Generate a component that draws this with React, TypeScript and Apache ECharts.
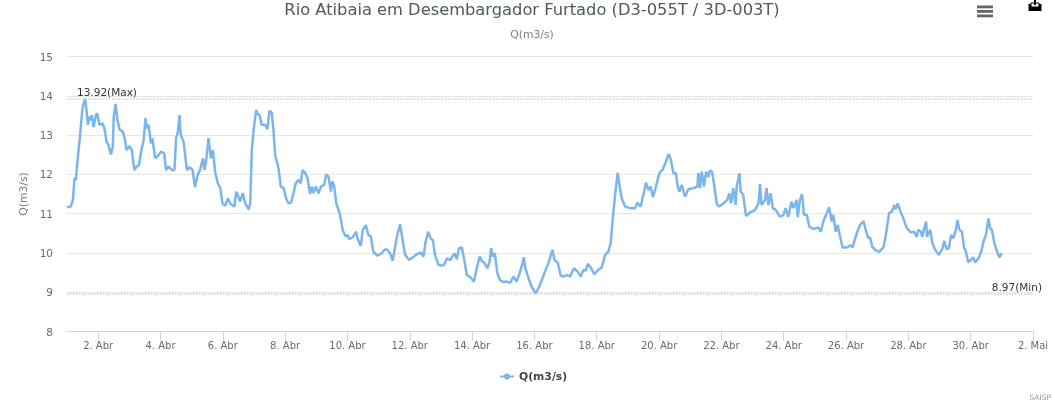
import React, { useEffect, useRef } from "react";
import * as echarts from "echarts";

const titleText = "Rio Atibaia em Desembargador Furtado (D3-055T / 3D-003T)";
const seriesName = "Q(m3/s)";
const creditText = "SAISP";
const maxValue = 13.92;
const minValue = 8.97;
const maxLabel = "13.92(Max)";
const minLabel = "8.97(Min)";

const yMin = 8;
const yMax = 15;
const xMin = 1;
const xMax = 32;
const tickDays = [2, 4, 6, 8, 10, 12, 14, 16, 18, 20, 22, 24, 26, 28, 30, 32];
const tickLabels = ["2. Abr", "4. Abr", "6. Abr", "8. Abr", "10. Abr", "12. Abr", "14. Abr", "16. Abr", "18. Abr", "20. Abr", "22. Abr", "24. Abr", "26. Abr", "28. Abr", "30. Abr", "2. Mai"];

// day of April (fractional)
const days = [
  1, 1.12, 1.19, 1.24, 1.285, 1.34, 1.42, 1.49, 1.53, 1.585, 1.62, 1.67, 1.72, 1.77, 1.8, 1.85, 1.93, 1.97, 2.04, 2.14,
  2.2, 2.27, 2.33, 2.41, 2.47, 2.5, 2.56, 2.62, 2.69, 2.79, 2.86, 2.91, 3, 3.08, 3.16, 3.22, 3.31, 3.38, 3.46, 3.52,
  3.56, 3.62, 3.69, 3.74, 3.83, 3.94, 4.02, 4.12, 4.18, 4.26, 4.36, 4.45, 4.5, 4.56, 4.61, 4.65, 4.74, 4.85, 4.93, 5.03,
  5.11, 5.19, 5.27, 5.36, 5.41, 5.47, 5.54, 5.62, 5.68, 5.76, 5.84, 5.92, 5.99, 6.08, 6.16, 6.24, 6.37, 6.43, 6.5, 6.56,
  6.64, 6.72, 6.83, 6.88, 6.93, 6.99, 7.07, 7.11, 7.18, 7.25, 7.36, 7.43, 7.5, 7.57, 7.63, 7.68, 7.79, 7.86, 7.95, 8.03,
  8.11, 8.19, 8.27, 8.34, 8.43, 8.5, 8.56, 8.64, 8.72, 8.8, 8.86, 8.91, 8.98, 9.07, 9.15, 9.25, 9.32, 9.39, 9.47, 9.51,
  9.57, 9.64, 9.75, 9.85, 9.94, 10, 10.06, 10.17, 10.28, 10.32, 10.43, 10.49, 10.59, 10.67, 10.75, 10.83, 10.96, 11.1, 11.19, 11.26,
  11.37, 11.45, 11.53, 11.6, 11.69, 11.77, 11.85, 11.98, 12.1, 12.23, 12.36, 12.44, 12.51, 12.59, 12.67, 12.74, 12.81, 12.92, 13.03, 13.1,
  13.19, 13.3, 13.43, 13.51, 13.58, 13.67, 13.74, 13.83, 13.94, 14.06, 14.15, 14.24, 14.31, 14.4, 14.49, 14.56, 14.61, 14.66, 14.73, 14.81,
  14.9, 15, 15.11, 15.22, 15.33, 15.43, 15.51, 15.59, 15.66, 15.71, 15.81, 15.91, 16.04, 16.14, 16.24, 16.34, 16.45, 16.58, 16.64, 16.75,
  16.85, 16.95, 17.04, 17.14, 17.27, 17.38, 17.49, 17.57, 17.65, 17.71, 17.81, 17.92, 18.05, 18.16, 18.27, 18.37, 18.45, 18.51, 18.59, 18.64,
  18.67, 18.73, 18.8, 18.91, 19.07, 19.23, 19.3, 19.41, 19.52, 19.58, 19.66, 19.73, 19.8, 19.89, 20.01, 20.12, 20.22, 20.31, 20.38, 20.46,
  20.54, 20.59, 20.65, 20.73, 20.83, 20.94, 21.1, 21.23, 21.26, 21.31, 21.37, 21.44, 21.51, 21.58, 21.63, 21.7, 21.76, 21.85, 21.92, 22.06,
  22.19, 22.25, 22.31, 22.38, 22.46, 22.49, 22.58, 22.62, 22.7, 22.79, 22.92, 23.08, 23.19, 23.24, 23.29, 23.4, 23.45, 23.51, 23.58, 23.65,
  23.75, 23.88, 23.99, 24.06, 24.15, 24.25, 24.31, 24.41, 24.45, 24.52, 24.59, 24.65, 24.74, 24.82, 24.95, 25.11, 25.19, 25.27, 25.38, 25.46,
  25.54, 25.59, 25.67, 25.73, 25.81, 25.89, 26.02, 26.15, 26.21, 26.36, 26.45, 26.56, 26.63, 26.72, 26.77, 26.84, 26.96, 27.07, 27.2, 27.28,
  27.38, 27.47, 27.55, 27.59, 27.66, 27.73, 27.84, 27.95, 28.08, 28.18, 28.27, 28.32, 28.4, 28.45, 28.5, 28.57, 28.6, 28.7, 28.77, 28.86,
  28.98, 29.1, 29.15, 29.23, 29.3, 29.37, 29.44, 29.51, 29.58, 29.63, 29.72, 29.79, 29.84, 29.92, 30, 30.08, 30.14, 30.25, 30.35, 30.41,
  30.49, 30.57, 30.62, 30.68, 30.76, 30.85, 30.92, 31,
];

const flow = [
  11.16, 11.18, 11.35, 11.9, 11.86, 12.37, 13, 13.64, 13.79, 13.92, 13.68, 13.26, 13.47, 13.38, 13.51, 13.2, 13.51, 13.55, 13.26, 13.3,
  13.17, 12.83, 12.75, 12.51, 12.7, 13.47, 13.79, 13.38, 13.13, 13.09, 12.88, 12.62, 12.72, 12.62, 12.11, 12.18, 12.24, 12.58, 12.88, 13.43,
  13.17, 13.26, 12.79, 12.92, 12.41, 12.49, 12.58, 12.53, 12.11, 12.2, 12.11, 12.11, 12.92, 13.09, 13.51, 13, 12.83, 12.11, 12.18, 12.11,
  11.67, 11.98, 12.11, 12.41, 12.11, 12.37, 12.92, 12.41, 12.62, 12.03, 11.77, 11.65, 11.26, 11.2, 11.39, 11.25, 11.18, 11.56, 11.43, 11.31,
  11.52, 11.26, 11.11, 11.26, 12.62, 13.13, 13.64, 13.54, 13.51, 13.26, 13.26, 13.15, 13.62, 13.57, 13.09, 12.49, 12.15, 11.69, 11.65, 11.39,
  11.26, 11.28, 11.52, 11.77, 11.86, 11.77, 12.11, 12.04, 11.9, 11.5, 11.69, 11.52, 11.69, 11.52, 11.69, 11.73, 12, 11.94, 11.56, 11.82,
  11.73, 11.26, 11.01, 10.58, 10.42, 10.46, 10.35, 10.4, 10.54, 10.37, 10.18, 10.58, 10.71, 10.46, 10.42, 10.03, 9.93, 9.99, 10.08, 10.09,
  9.99, 9.8, 10.16, 10.46, 10.73, 10.33, 9.95, 9.82, 9.89, 9.97, 10.01, 9.91, 10.29, 10.54, 10.37, 10.33, 9.95, 9.7, 9.68, 9.69,
  9.86, 9.82, 9.99, 9.84, 10.12, 10.14, 9.86, 9.44, 9.38, 9.27, 9.61, 9.91, 9.8, 9.74, 9.61, 9.78, 10.12, 9.91, 9.99, 9.48,
  9.3, 9.26, 9.27, 9.24, 9.4, 9.27, 9.44, 9.65, 9.89, 9.61, 9.36, 9.14, 8.97, 9.12, 9.31, 9.53, 9.74, 10.08, 9.82, 9.75,
  9.41, 9.4, 9.44, 9.4, 9.61, 9.53, 9.4, 9.57, 9.55, 9.72, 9.63, 9.46, 9.57, 9.63, 9.95, 10.03, 10.25, 10.84, 11.48, 11.82,
  12.04, 11.73, 11.39, 11.18, 11.14, 11.14, 11.28, 11.18, 11.56, 11.79, 11.6, 11.69, 11.42, 11.65, 12.03, 12.13, 12.32, 12.52, 12.37, 12.03,
  12.03, 11.73, 11.56, 11.73, 11.43, 11.62, 11.65, 11.69, 12.03, 11.65, 12.07, 11.69, 12.07, 11.93, 12.1, 12.07, 11.77, 11.26, 11.18, 11.26,
  11.35, 11.52, 11.26, 11.65, 11.22, 11.69, 12.03, 11.56, 11.48, 10.94, 11.03, 11.09, 11.26, 11.75, 11.22, 11.35, 11.65, 11.22, 11.52, 11.14,
  11.09, 10.92, 10.97, 11.14, 10.92, 11.31, 11.14, 11.35, 10.91, 11.35, 11.5, 10.97, 10.97, 10.67, 10.61, 10.65, 10.54, 10.8, 11.01, 11.16,
  10.8, 10.97, 10.54, 10.71, 10.41, 10.14, 10.14, 10.19, 10.14, 10.54, 10.71, 10.81, 10.59, 10.37, 10.4, 10.16, 10.06, 10.03, 10.14, 10.46,
  11.01, 11.05, 11.22, 11.11, 11.26, 11.09, 10.88, 10.63, 10.52, 10.54, 10.41, 10.59, 10.54, 10.41, 10.6, 10.8, 10.41, 10.59, 10.25, 10.08,
  9.95, 10.12, 10.31, 10.09, 10.12, 10.46, 10.37, 10.54, 10.84, 10.6, 10.54, 10.12, 10.06, 9.76, 9.82, 9.89, 9.76, 9.86, 10.06, 10.29,
  10.46, 10.88, 10.63, 10.59, 10.25, 10.03, 9.89, 9.99,
];

const font = "'DejaVu Sans', sans-serif";

export default function App() {
  const ref = useRef<HTMLDivElement>(null);
  useEffect(() => {
    if (!ref.current) return;
    const chart = echarts.init(ref.current, undefined, { renderer: "svg" });
    const lineStyle = { color: "#cdcdcd", type: "dotted" as const, width: 1.5 };
    chart.setOption({
      animation: false,
      title: [
        {
          text: titleText,
          left: 527,
          textAlign: "center",
          top: -4,
          textStyle: { fontFamily: font, fontSize: 16.3, fontWeight: "normal", color: "#50595f" },
        },
        {
          text: seriesName,
          left: 527,
          textAlign: "center",
          top: 24,
          textStyle: { fontFamily: font, fontSize: 10.8, fontWeight: "normal", color: "#808080" },
        },
      ],
      legend: {
        show: true,
        left: 494,
        top: 366,
        itemWidth: 14,
        itemHeight: 8,
        itemGap: 0,
        data: [{ name: seriesName }],
        textStyle: { fontFamily: font, fontSize: 10.8, fontWeight: "bold", color: "#444" },
      },
      grid: { left: 67, right: 19, top: 56.5, bottom: 79.5 },
      xAxis: {
        type: "value",
        min: xMin,
        max: xMax,
        axisLine: { lineStyle: { color: "#c8d4e6", width: 1 } },
        axisTick: { show: true, length: 9, customValues: tickDays, lineStyle: { color: "#c8d4e6" } },
        axisLabel: {
          customValues: tickDays,
          hideOverlap: false,
          showMinLabel: true,
          showMaxLabel: true,
          margin: 9,
          fontFamily: font,
          fontSize: 10,
          color: "#6b6b6b",
          formatter: (v: number) => tickLabels[tickDays.indexOf(v)] ?? "",
        },
        splitLine: { show: false },
      },
      yAxis: {
        type: "value",
        min: yMin,
        max: yMax,
        interval: 1,
        name: seriesName,
        nameLocation: "middle",
        nameGap: 38,
        nameRotate: 90,
        nameTextStyle: { fontFamily: font, fontSize: 10.8, color: "#808080" },
        axisLine: { show: false },
        axisTick: { show: false },
        axisLabel: { margin: 14, padding: [0, 0, 3, 0], fontFamily: font, fontSize: 10.5, color: "#6b6b6b" },
        splitLine: { lineStyle: { color: "#e6e6e6", width: 1 } },
      },
      series: [
        {
          name: seriesName,
          type: "line",
          showSymbol: false,
          symbol: "circle",
          symbolSize: 8,
          itemStyle: { color: "#7cb5ec" },
          lineStyle: { color: "#7cb5ec", width: 2.5 },
          data: days.map((d, i) => [d, flow[i]]),
          markLine: {
            silent: true,
            symbol: "none",
            lineStyle,
            data: [
              {
                yAxis: maxValue,
                label: {
                  formatter: maxLabel,
                  position: "insideStartTop",
                  distance: [10, 1],
                  fontFamily: font,
                  fontSize: 10.5,
                  color: "#333",
                },
              },
              {
                yAxis: minValue,
                label: {
                  formatter: minLabel,
                  position: "insideEndTop",
                  distance: [-9, 1],
                  fontFamily: font,
                  fontSize: 10.5,
                  color: "#333",
                },
              },
            ],
          },
        },
      ],
      graphic: [
        { type: "rect", shape: { x: 977, y: 5.5, width: 16, height: 2.8 }, style: { fill: "#666" } },
        { type: "rect", shape: { x: 977, y: 10, width: 16, height: 2.8 }, style: { fill: "#666" } },
        { type: "rect", shape: { x: 977, y: 14.5, width: 16, height: 2.8 }, style: { fill: "#666" } },
        { type: "rect", shape: { x: 1028.5, y: 4, width: 13, height: 7 }, style: { fill: "#000" } },
        { type: "rect", shape: { x: 1031, y: 3, width: 8, height: 4 }, style: { fill: "#fff", stroke: "#000", lineWidth: 1 } },
        { type: "rect", shape: { x: 1034, y: 0, width: 2, height: 5 }, style: { fill: "#000" } },
        { type: "text", style: { text: creditText, x: 1051, y: 393, align: "right", fontFamily: font, fontSize: 7.5, fill: "#999" } },
      ],
    });
    return () => chart.dispose();
  }, []);
  return <div ref={ref} style={{ position: "fixed", left: 0, top: 0, width: 1052, height: 411 }} />;
}
